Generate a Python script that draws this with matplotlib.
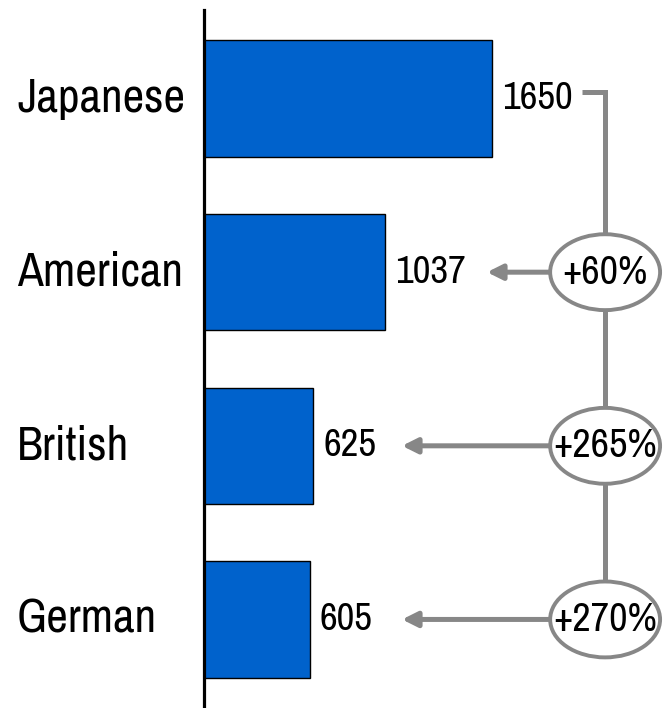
#Horizontal bar chart with percentage gap annotations

import matplotlib
matplotlib.use('Agg')
import matplotlib.pyplot as plt
import matplotlib.transforms as mtrans
from matplotlib.patches import Ellipse

#Data
categories = ['Japanese', 'American', 'British', 'German']
values = [1650, 1037, 625, 605]
gaps = ['+60%', '+265%', '+270%']      # gap of Japanese over the others

#Style
bar_color = '#0062CC'
line_gray = '#878787'
plt.rcParams['font.family'] = ['Archivo Narrow', 'DejaVu Sans']

fig = plt.figure(figsize=(6.64, 7.08), dpi=100)
ax = fig.add_axes([204/664., 0., 460/664., 698/708.])

pos = list(range(len(categories)))
ax.barh(pos, values, height=0.67, color=bar_color, edgecolor='black', linewidth=1.0, zorder=2)

ax.set_xlim(0, 460/0.1745)
ax.set_ylim(3.51, -0.51)

for s in ['top', 'right', 'bottom']:
    ax.spines[s].set_visible(False)
ax.spines['left'].set_linewidth(2.3)
ax.set_xticks([])
ax.set_yticks([])

#category labels, left aligned at figure edge
lab_trans = mtrans.blended_transform_factory(fig.transFigure, ax.transData)
for i, c in enumerate(categories):
    ax.text(17/664., i, c, transform=lab_trans, ha='left', va='center', fontsize=34)

#value labels
off = mtrans.offset_copy(ax.transData, fig=fig, x=10, y=0, units='dots')
for i, v in enumerate(values):
    ax.text(v, i, str(v), transform=off, ha='left', va='center', fontsize=28)

#connector: hook from 1650 label, vertical line, ellipses and arrows
tr = mtrans.blended_transform_factory(ax.transAxes, ax.transData)
xc = 0.872          # ellipse centre (axes fraction)
ew, eh = 0.239, 0.437
hook_x0 = (582-204)/460.
tips = [(487-204)/460., (402-204)/460., (402-204)/460.]
lw = 3.6

ax.plot([hook_x0, xc, xc], [-0.04, -0.04, len(gaps)], color=line_gray, lw=lw,
        transform=tr, solid_capstyle='butt', solid_joinstyle='miter', zorder=3, clip_on=False)

for k, g in enumerate(gaps):
    y = k + 1
    e = Ellipse((xc, y), ew, eh, transform=tr, facecolor='white', edgecolor=line_gray,
                lw=2.8, zorder=4, clip_on=False)
    ax.add_patch(e)
    ax.text(xc, y, g, transform=tr, ha='center', va='center', fontsize=29, zorder=5)
    ax.annotate('', xy=(tips[k], y), xycoords=tr, xytext=(xc-ew/2., y), textcoords=tr,
                arrowprops=dict(arrowstyle='-|>,head_length=0.9,head_width=0.45',
                                color=line_gray, lw=lw, shrinkA=0, shrinkB=0), zorder=3)

plt.savefig('out.png', dpi=100)
